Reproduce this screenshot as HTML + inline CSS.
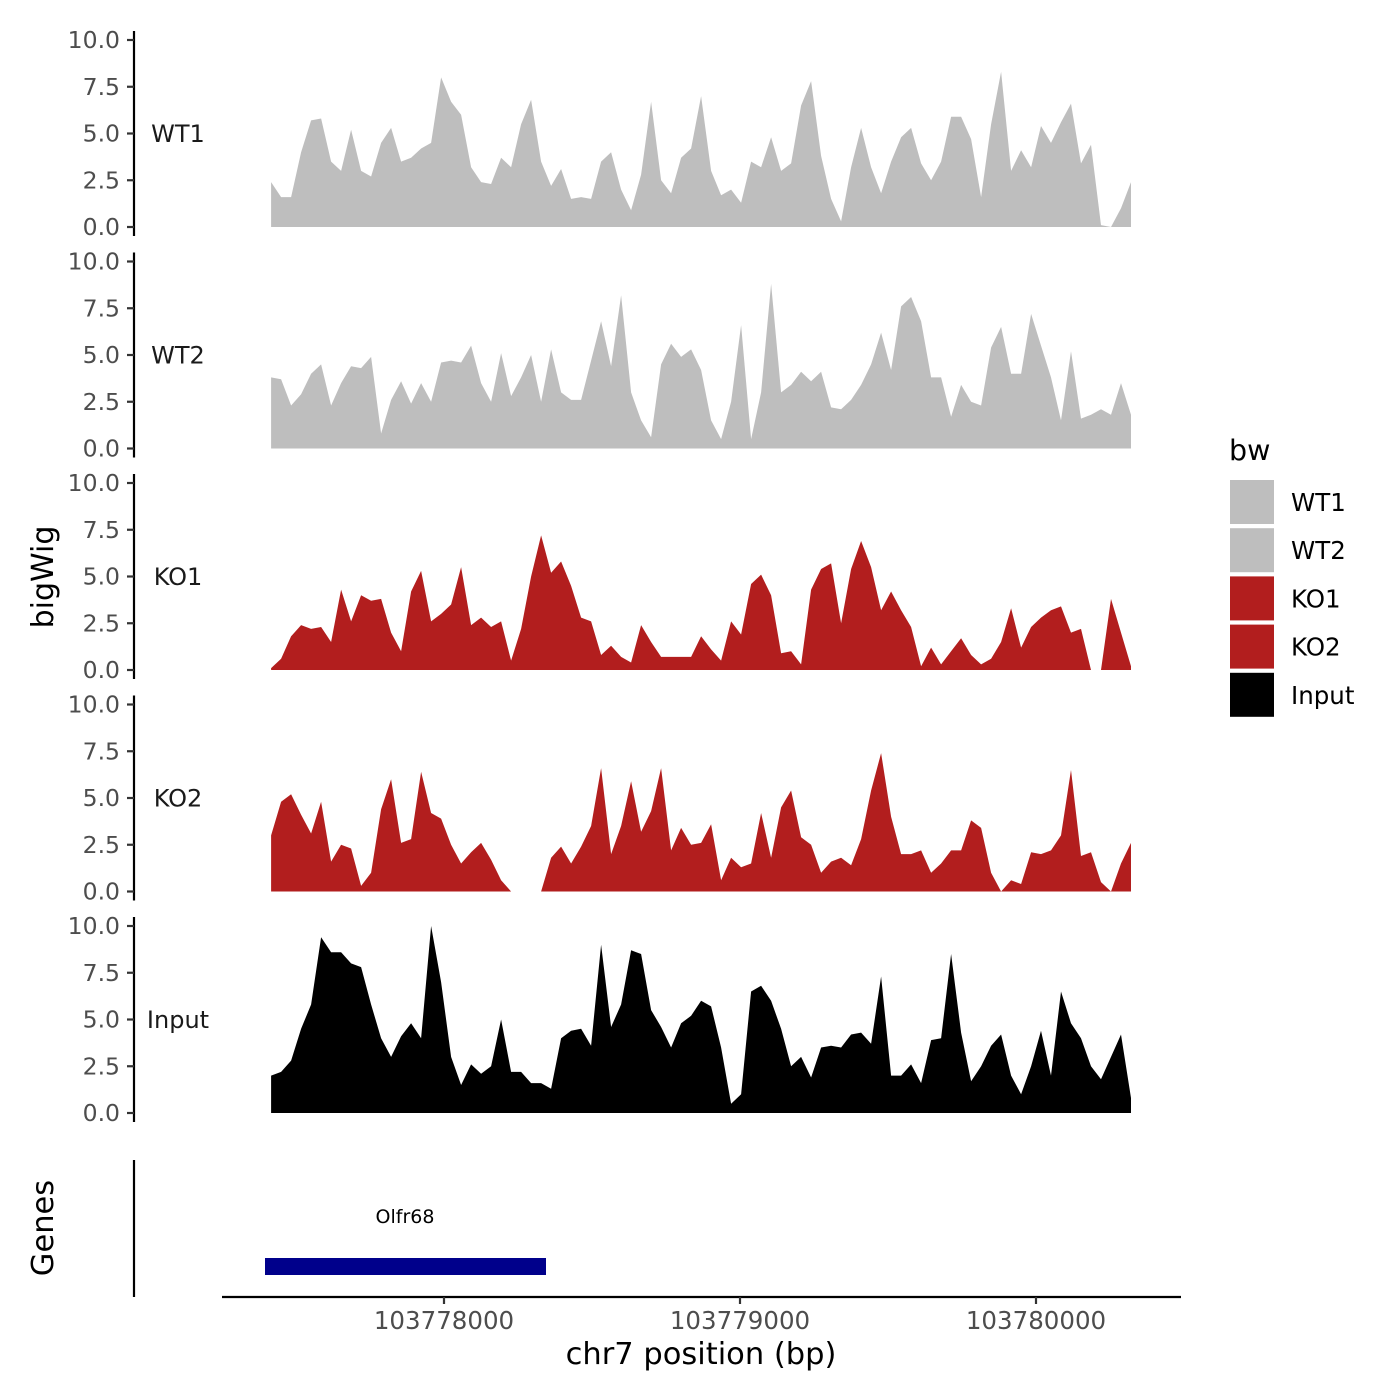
<!DOCTYPE html>
<html><head><meta charset="utf-8"><style>
html,body{margin:0;padding:0;background:#fff;}
svg{display:block;font-family:"DejaVu Sans","Liberation Sans",sans-serif;}
</style></head><body>
<svg id="chart" width="1400" height="1400" viewBox="0 0 1400 1400">
<g id="tracks"></g>
<g id="axes"></g>
</svg>
<script>
const trackNames = ["WT1","WT2","KO1","KO2","Input"];
const trackColors = ["#bebebe","#bebebe","#b21e1e","#b21e1e","#000000"];
const yTicks = [0,2.5,5,7.5,10];
const yTickLabels = ["0.0","2.5","5.0","7.5","10.0"];
const xTicks = [103778000,103779000,103780000];
const xTickLabels = ["103778000","103779000","103780000"];
const binStart = 103777416;
const binSize = 33.78;
const wt1 = [2.4,1.6,1.6,4,5.7,5.8,3.5,3,5.2,3,2.7,4.5,5.3,3.5,3.7,4.2,4.5,8,6.7,6,3.2,2.4,2.3,3.7,3.2,5.5,6.8,3.5,2.2,3.1,1.5,1.6,1.5,3.5,4,2,0.9,2.8,6.7,2.5,1.8,3.7,4.2,7,3,1.7,2,1.3,3.5,3.2,4.8,3,3.4,6.5,7.8,3.8,1.5,0.3,3.2,5.3,3.2,1.8,3.5,4.8,5.3,3.4,2.5,3.5,5.9,5.9,4.7,1.6,5.5,8.3,3,4.1,3.2,5.4,4.5,5.6,6.6,3.4,4.4,0.1,0,1,2.4];
const wt2 = [3.8,3.7,2.3,2.9,4,4.5,2.3,3.5,4.4,4.3,4.9,0.8,2.6,3.6,2.4,3.5,2.5,4.6,4.7,4.6,5.5,3.5,2.5,5.1,2.8,3.8,5,2.5,5.3,3,2.6,2.6,4.7,6.8,4.4,8.2,3,1.5,0.6,4.5,5.6,4.9,5.3,4.2,1.5,0.5,2.5,6.6,0.5,3,8.8,3,3.4,4.1,3.6,4.1,2.2,2.1,2.6,3.4,4.5,6.2,4.2,7.6,8.1,6.8,3.8,3.8,1.7,3.4,2.5,2.3,5.4,6.5,4,4,7.2,5.5,3.8,1.5,5.2,1.6,1.8,2.1,1.8,3.5,1.8];
const ko1 = [0.1,0.6,1.8,2.4,2.2,2.3,1.5,4.3,2.6,4,3.7,3.8,2,1,4.2,5.3,2.6,3,3.5,5.5,2.4,2.8,2.3,2.6,0.5,2.2,5,7.2,5.2,5.8,4.5,2.8,2.6,0.8,1.3,0.7,0.4,2.4,1.5,0.7,0.7,0.7,0.7,1.8,1.1,0.5,2.6,1.9,4.6,5.1,4,0.9,1,0.3,4.3,5.4,5.7,2.5,5.4,6.9,5.5,3.2,4.2,3.2,2.3,0.2,1.2,0.3,1,1.7,0.8,0.3,0.6,1.5,3.3,1.2,2.3,2.8,3.2,3.4,2,2.2,0,0,3.8,2,0.2];
const ko2 = [3,4.8,5.2,4.1,3.1,4.8,1.6,2.5,2.3,0.3,1,4.4,6,2.6,2.8,6.4,4.2,3.9,2.5,1.5,2.1,2.6,1.7,0.6,0,0,0,0,1.8,2.4,1.5,2.4,3.5,6.6,2,3.5,5.9,3.2,4.3,6.6,2.2,3.4,2.5,2.6,3.6,0.6,1.8,1.3,1.5,4.2,1.8,4.5,5.4,2.9,2.5,1,1.6,1.8,1.4,2.8,5.4,7.4,4,2,2,2.2,1,1.5,2.2,2.2,3.8,3.4,1,0,0.6,0.4,2.1,2,2.2,3,6.5,1.9,2.1,0.5,0,1.5,2.6];
const input = [2,2.2,2.8,4.5,5.8,9.4,8.6,8.6,8,7.8,5.8,4,3,4.1,4.8,4,10,7,3,1.5,2.6,2.1,2.5,5,2.2,2.2,1.6,1.6,1.3,4,4.4,4.5,3.6,9,4.6,5.8,8.7,8.5,5.5,4.6,3.5,4.8,5.2,6,5.7,3.5,0.5,1,6.5,6.8,6,4.5,2.5,3,1.9,3.5,3.6,3.5,4.2,4.3,3.7,7.3,2,2,2.6,1.6,3.9,4,8.5,4.3,1.7,2.5,3.6,4.2,2,1,2.5,4.4,2,6.5,4.8,4,2.5,1.8,3,4.2,0.8];
const seriesData = [wt1,wt2,ko1,ko2,input];

const NS="http://www.w3.org/2000/svg";
function mk(tag,attrs,parent){const e=document.createElementNS(NS,tag);for(const k in attrs)e.setAttribute(k,attrs[k]);parent.appendChild(e);return e;}
const xScale = bp => 444 + (bp-103778000)*0.296;
const panelTop = i => 40 + i*221.5;
const yScale = (v,i) => panelTop(i) + 187 - v*18.7;
const tracksG=document.getElementById('tracks'), axesG=document.getElementById('axes');

seriesData.forEach((vals,i)=>{
  const g=mk('g',{},tracksG);
  
  
  const x0=xScale(binStart), x1=xScale(binStart+(vals.length-1)*binSize);
  let d='M'+x0.toFixed(1)+','+yScale(0,i);
  vals.forEach((v,j)=>{d+=' L'+xScale(binStart+j*binSize).toFixed(1)+','+yScale(v,i).toFixed(1);});
  d+=' L'+x1.toFixed(1)+','+yScale(0,i)+' Z';
  const p=mk('path',{d:d,fill:trackColors[i]},g);
  
  
  const ax=mk('line',{x1:134,x2:134,y1:panelTop(i)-9,y2:panelTop(i)+196,stroke:'#000','stroke-width':2.2},axesG);
  
  
  yTicks.forEach((t,k)=>{
    const y=yScale(t,i);
    const tk=mk('line',{x1:127,x2:134,y1:y,y2:y,stroke:'#333','stroke-width':2.2},axesG);
    
    
    const tl=mk('text',{x:120,y:y+8,'text-anchor':'end','font-size':23.5,fill:'#4d4d4d'},axesG);
    tl.textContent=yTickLabels[k];
    
    
  });
  const lab=mk('text',{x:178,y:panelTop(i)+102,'text-anchor':'middle','font-size':24,fill:'#1a1a1a'},axesG);
  lab.textContent=trackNames[i];
  
  
});

const gl=mk('line',{x1:134,x2:134,y1:1160,y2:1297,stroke:'#000','stroke-width':2.2},axesG);


const gene=mk('rect',{x:265,y:1258,width:281,height:17,fill:'#00008b'},axesG);


const gt=mk('text',{x:405,y:1223,'text-anchor':'middle','font-size':19,fill:'#000'},axesG);
gt.textContent='Olfr68';



const xl=mk('line',{x1:222,x2:1181,y1:1297,y2:1297,stroke:'#000','stroke-width':2.2},axesG);


xTicks.forEach((t,k)=>{
  const x=xScale(t);
  const tk=mk('line',{x1:x,x2:x,y1:1297,y2:1304,stroke:'#333','stroke-width':2.2},axesG);
  
  
  const tl=mk('text',{x:x,y:1329,'text-anchor':'middle','font-size':24.5,fill:'#4d4d4d'},axesG);
  tl.textContent=xTickLabels[k];
  
  
});
const xt=mk('text',{x:701,y:1364,'text-anchor':'middle','font-size':30.5,fill:'#000'},axesG);
xt.textContent='chr7 position (bp)';


const yt=mk('text',{x:0,y:0,'text-anchor':'middle','font-size':30,fill:'#000',transform:'translate(53,577) rotate(-90)'},axesG);
yt.textContent='bigWig';


const gy=mk('text',{x:0,y:0,'text-anchor':'middle','font-size':30.5,fill:'#000',transform:'translate(53,1228) rotate(-90)'},axesG);
gy.textContent='Genes';



const lg=mk('g',{},axesG);


const ltitle=mk('text',{x:1229,y:460,'font-size':28.5,fill:'#000'},lg);
ltitle.textContent='bw';


trackNames.forEach((n,i)=>{
  const y=480+i*48.2;
  const r=mk('rect',{x:1230,y:y,width:44,height:44,fill:trackColors[i]},lg);
  
  
  const t=mk('text',{x:1291,y:y+31,'font-size':24.5,fill:'#000'},lg);
  t.textContent=n;
  
  
});
</script>
</body></html>
